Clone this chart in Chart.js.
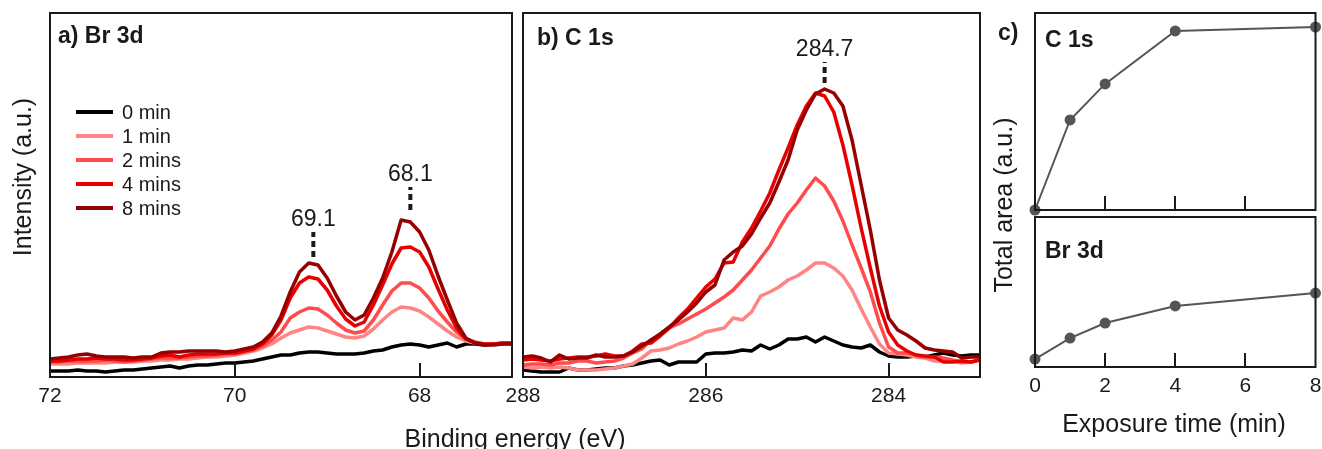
<!DOCTYPE html>
<html lang="en">
<head>
<meta charset="UTF-8">
<title>XPS Br 3d / C 1s vs exposure time</title>
<script src="https://cdn.jsdelivr.net/npm/chart.js"></script>
<style>
  body { margin: 0; background: #fff; }
  #wrap { position: relative; width: 1322px; height: 449px; }
  #wrap canvas { position: absolute; left: 0; top: 0; }
</style>
</head>
<body>
<div id="wrap">
  <canvas id="brChart" width="1322" height="449"></canvas>
  <canvas id="cChart" width="1322" height="449"></canvas>
  <canvas id="areaC" width="1322" height="449"></canvas>
  <canvas id="areaBr" width="1322" height="449"></canvas>
</div>
<script>
const TIMES = ['0 min', '1 min', '2 mins', '4 mins', '8 mins'];
const COLORS = ['#000000', '#ff8585', '#ff4b4b', '#e80000', '#960000'];

// a) Br 3d, binding energy (eV) and intensity (a.u.)
const BE_BR = [72.0, 71.9, 71.8, 71.7, 71.6, 71.5, 71.4, 71.3, 71.2, 71.1,
               71.0, 70.9, 70.8, 70.7, 70.6, 70.5, 70.4, 70.3, 70.2, 70.1,
               70.0, 69.9, 69.8, 69.7, 69.6, 69.5, 69.4, 69.3, 69.2, 69.1,
               69.0, 68.9, 68.8, 68.7, 68.6, 68.5, 68.4, 68.3, 68.2, 68.1,
               68.0, 67.9, 67.8, 67.7, 67.6, 67.5, 67.4, 67.3, 67.2, 67.1, 67.0];
const BR_0 = [6, 6, 6, 7, 6, 6, 5, 6, 7, 7,
              8, 9, 10, 11, 9, 11, 12, 12, 13, 14,
              14, 15, 16, 18, 20, 22, 22, 24, 25, 25,
              24, 23, 23, 23, 24, 26, 27, 30, 32, 33,
              32, 30, 32, 34, 30, 33, 33, 32, 33, 33, 33];
const BR_1 = [13, 13, 13, 14, 14, 14, 14, 15, 15, 15,
              16, 16, 17, 17, 18, 18, 19, 20, 20, 21,
              22, 24, 26, 29, 33, 39, 44, 47, 50, 49,
              46, 43, 40, 39, 41, 48, 57, 65, 70, 69,
              66, 60, 53, 46, 40, 36, 34, 33, 33, 33, 33];
const BR_2 = [15, 15, 16, 16, 16, 16, 17, 16, 15, 16,
              17, 18, 19, 19, 19, 20, 21, 21, 22, 23,
              23, 25, 27, 31, 37, 45, 59, 65, 69, 68,
              62, 54, 47, 44, 46, 57, 72, 86, 94, 94,
              89, 79, 66, 55, 45, 38, 35, 33, 33, 34, 34];
const BR_4 = [16, 16, 17, 18, 18, 19, 18, 18, 17, 17,
              18, 19, 21, 22, 20, 22, 23, 23, 23, 24,
              24, 26, 28, 33, 42, 57, 79, 94, 100, 98,
              87, 71, 58, 51, 55, 72, 92, 113, 129, 130,
              125, 110, 88, 67, 49, 38, 34, 33, 33, 34, 34];
const BR_8 = [18, 19, 20, 22, 23, 21, 20, 20, 20, 19,
              20, 20, 24, 25, 25, 26, 26, 26, 26, 25,
              26, 28, 30, 35, 44, 61, 85, 105, 114, 112,
              99, 81, 65, 57, 62, 79, 99, 125, 157, 155,
              145, 127, 101, 77, 54, 39, 34, 32, 32, 33, 33];
const TICKS_BR = [72, 70, 68];

// b) C 1s
const BE_C = [288.0, 287.9, 287.8, 287.7, 287.6, 287.5, 287.4, 287.3, 287.2, 287.1,
              287.0, 286.9, 286.8, 286.7, 286.6, 286.5, 286.4, 286.3, 286.2, 286.1,
              286.0, 285.9, 285.8, 285.7, 285.6, 285.5, 285.4, 285.3, 285.2, 285.1,
              285.0, 284.9, 284.8, 284.7, 284.6, 284.5, 284.4, 284.3, 284.2, 284.1,
              284.0, 283.9, 283.8, 283.7, 283.6, 283.5, 283.4, 283.3, 283.2, 283.1, 283.0];
const C_0 = [7, 6, 5, 5, 5, 9, 7, 7, 8, 9,
             9, 11, 12, 14, 16, 17, 12, 15, 15, 15,
             23, 24, 24, 25, 27, 26, 32, 28, 32, 38,
             38, 40, 35, 40, 36, 32, 30, 29, 32, 25,
             21, 20, 20, 21, 20, 22, 24, 22, 21, 22, 22];
const C_1 = [10, 9, 10, 9, 10, 9, 7, 7, 7, 8,
             9, 11, 13, 19, 26, 27, 29, 33, 36, 40,
             45, 47, 49, 59, 57, 65, 81, 85, 90, 97,
             101, 107, 114, 114, 109, 101, 87, 68, 50, 33,
             24, 23, 22, 20, 19, 16, 16, 16, 14, 15, 17];
const C_2 = [12, 13, 13, 12, 14, 14, 16, 16, 14, 15,
             16, 19, 24, 28, 37, 42, 49, 53, 58, 63,
             68, 74, 80, 87, 97, 107, 119, 131, 148, 163,
             174, 187, 199, 191, 176, 156, 132, 109, 85, 54,
             30, 24, 24, 22, 20, 20, 19, 17, 15, 15, 17];
const C_4 = [17, 18, 17, 16, 18, 19, 20, 20, 21, 23,
             21, 21, 26, 33, 34, 41, 49, 59, 68, 79,
             90, 98, 114, 115, 135, 149, 166, 184, 207, 229,
             252, 271, 284, 281, 265, 232, 192, 149, 109, 71,
             45, 32, 26, 22, 21, 20, 15, 15, 16, 15, 17];
const C_8 = [20, 21, 19, 15, 22, 18, 19, 19, 22, 20,
             20, 21, 25, 31, 37, 43, 50, 57, 65, 74,
             85, 92, 117, 125, 131, 143, 159, 174, 195, 217,
             247, 267, 283, 288, 284, 271, 237, 192, 147, 97,
             59, 47, 42, 36, 29, 27, 26, 25, 19, 20, 20];
const TICKS_C = [288, 286, 284];

// c) total area vs exposure time
const EXPOSURE = [0, 1, 2, 4, 8];
const AREA_C1S = [0, 0.457, 0.640, 0.909, 0.929];
const AREA_BR3D = [0.053, 0.193, 0.293, 0.407, 0.493];
const TICKS_T = [0, 2, 4, 6, 8];

const FONT = '"Liberation Sans", Arial, sans-serif';
const INK = '#1a1a1a';
const BOLD = 'bold 23px ' + FONT;
const TITLE = '25px ' + FONT;

// frame, inward ticks, peak markers, legend and labels
const panelDecor = {
  id: 'panelDecor',
  afterDatasetsDraw(chart, args, opts) {
    const { ctx, chartArea: a } = chart;
    const x = chart.scales.x, y = chart.scales.y;
    ctx.save();
    ctx.strokeStyle = INK;
    ctx.fillStyle = INK;
    ctx.lineWidth = 2;
    ctx.strokeRect(a.left, a.top, a.right - a.left, a.bottom - a.top);

    (opts.inTicks || []).forEach(v => {
      const px = Math.round(x.getPixelForValue(v));
      ctx.beginPath();
      ctx.moveTo(px, a.bottom);
      ctx.lineTo(px, a.bottom - 14);
      ctx.stroke();
    });

    (opts.peaks || []).forEach(p => {
      const px = x.getPixelForValue(p.x);
      const top = y.getPixelForValue(p.y1);
      ctx.lineWidth = 4;
      ctx.setLineDash([6, 4]);
      ctx.beginPath();
      ctx.moveTo(px, y.getPixelForValue(p.y0));
      ctx.lineTo(px, top);
      ctx.stroke();
      ctx.setLineDash([]);
      ctx.font = '23px ' + FONT;
      ctx.textAlign = 'center';
      ctx.textBaseline = 'alphabetic';
      ctx.fillText(p.text, px, top - 6);
    });

    if (opts.legend) {
      const lg = opts.legend;
      ctx.font = '20px ' + FONT;
      ctx.textAlign = 'left';
      ctx.textBaseline = 'middle';
      chart.data.datasets.forEach((ds, i) => {
        const ly = a.top + lg.dy + i * lg.gap;
        ctx.strokeStyle = ds.borderColor;
        ctx.lineWidth = 4;
        ctx.beginPath();
        ctx.moveTo(a.left + lg.dx, ly);
        ctx.lineTo(a.left + lg.dx + lg.len, ly);
        ctx.stroke();
        ctx.fillStyle = INK;
        ctx.fillText(ds.label, a.left + lg.textDx, ly + 1);
      });
    }

    (opts.texts || []).forEach(t => {
      ctx.save();
      ctx.font = t.font;
      ctx.fillStyle = INK;
      ctx.textAlign = t.align || 'left';
      ctx.textBaseline = 'alphabetic';
      ctx.translate(a.left + t.dx, a.top + t.dy);
      if (t.rot) ctx.rotate(t.rot);
      ctx.fillText(t.text, 0, 0);
      ctx.restore();
    });
    ctx.restore();
  }
};

// x axis with fixed height and no side padding, so the plot box sits where the layout padding puts it
function xAxis(min, max, ticks, reverse, show, height) {
  return {
    type: 'linear', min, max, reverse, display: show,
    grid: { display: false, drawTicks: false }, border: { display: false },
    afterBuildTicks: s => { s.ticks = ticks.map(v => ({ value: v })); },
    afterFit: s => { s.height = height; s.paddingLeft = 0; s.paddingRight = 0; },
    ticks: { font: { size: 21, family: FONT }, color: INK, padding: 7, maxRotation: 0, autoSkip: false }
  };
}

function spectrum(id, xs, series, xmin, xmax, ticks, pad, decor) {
  return new Chart(document.getElementById(id), {
    type: 'line',
    data: {
      datasets: series.map((s, i) => ({
        label: TIMES[i],
        data: xs.map((v, j) => ({ x: v, y: s[j] })),
        borderColor: COLORS[i],
        borderWidth: 3.5,
        borderJoinStyle: 'round',
        pointRadius: 0,
        order: series.length - i
      }))
    },
    options: {
      responsive: false, animation: false, devicePixelRatio: 1,
      layout: { padding: pad },
      plugins: { legend: { display: false }, tooltip: { enabled: false }, panelDecor: decor },
      scales: {
        x: xAxis(xmin, xmax, ticks, true, true, 72),
        y: { display: false, min: 0, max: 364 }
      }
    },
    plugins: [panelDecor]
  });
}

function areaPlot(id, values, axisHeight, pad, decor) {
  return new Chart(document.getElementById(id), {
    type: 'line',
    data: {
      datasets: [{
        data: EXPOSURE.map((t, i) => ({ x: t, y: values[i] })),
        borderColor: '#555',
        borderWidth: 2,
        pointRadius: 4.5,
        pointBackgroundColor: '#555',
        pointBorderColor: '#555',
        clip: false
      }]
    },
    options: {
      responsive: false, animation: false, devicePixelRatio: 1,
      layout: { padding: pad },
      plugins: { legend: { display: false }, tooltip: { enabled: false }, panelDecor: decor },
      scales: {
        x: xAxis(0, 8, TICKS_T, false, axisHeight > 0, axisHeight),
        y: { display: false, min: 0, max: 1 }
      }
    },
    plugins: [panelDecor]
  });
}

spectrum('brChart', BE_BR, [BR_0, BR_1, BR_2, BR_4, BR_8], 67, 72, TICKS_BR,
  { left: 50, top: 13, right: 810, bottom: 0 },
  {
    inTicks: [70, 68],
    peaks: [{ x: 69.15, y0: 120, y1: 145, text: '69.1' },
            { x: 68.1, y0: 167, y1: 190, text: '68.1' }],
    legend: { dx: 26, dy: 99, len: 37, gap: 24, textDx: 72 },
    texts: [
      { text: 'a) Br 3d', font: BOLD, dx: 8, dy: 30 },
      { text: 'Intensity (a.u.)', font: TITLE, dx: -19, dy: 164, rot: -Math.PI / 2, align: 'center' },
      { text: 'Binding energy (eV)', font: TITLE, dx: 465, dy: 434, align: 'center' }
    ]
  });

spectrum('cChart', BE_C, [C_0, C_1, C_2, C_4, C_8], 283, 288, TICKS_C,
  { left: 523, top: 13, right: 342, bottom: 0 },
  {
    inTicks: [286, 284],
    peaks: [{ x: 284.7, y0: 294, y1: 315, text: '284.7' }],
    texts: [{ text: 'b) C 1s', font: BOLD, dx: 14, dy: 32 }]
  });

areaPlot('areaC', AREA_C1S, 0,
  { left: 1035, top: 13, right: 5, bottom: 239 },
  {
    inTicks: [2, 4, 6],
    texts: [
      { text: 'c)', font: BOLD, dx: -37, dy: 27 },
      { text: 'C 1s', font: BOLD, dx: 10, dy: 34 },
      { text: 'Total area (a.u.)', font: TITLE, dx: -23, dy: 192, rot: -Math.PI / 2, align: 'center' }
    ]
  });

areaPlot('areaBr', AREA_BR3D, 82,
  { left: 1035, top: 217, right: 5, bottom: 0 },
  {
    inTicks: [2, 4, 6],
    texts: [
      { text: 'Br 3d', font: BOLD, dx: 10, dy: 41 },
      { text: 'Exposure time (min)', font: TITLE, dx: 139, dy: 215, align: 'center' }
    ]
  });
</script>
</body>
</html>
